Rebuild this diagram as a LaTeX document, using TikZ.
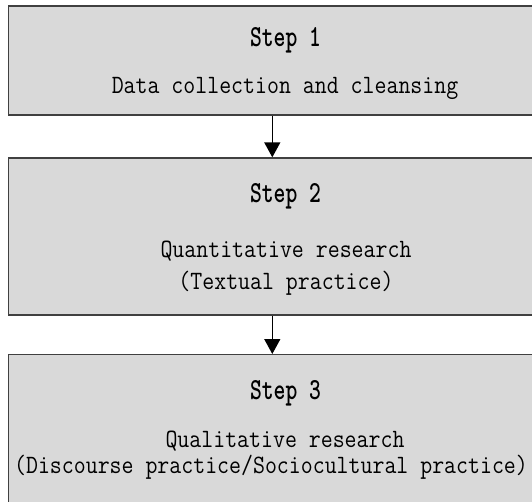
\documentclass[tikz,border=0pt]{standalone}
\usepackage{fontspec}
\usetikzlibrary{arrows.meta}
\definecolor{boxfill}{RGB}{217,217,217}
\definecolor{boxline}{RGB}{64,64,64}
\newcommand{\ttl}[1]{\scalebox{1}[1.36]{#1}}
\newcommand{\txt}[1]{\scalebox{1}[1.14]{#1}}
\tikzset{
  stepbox/.style={draw=boxline, line width=1.4pt, fill=boxfill, inner sep=0pt, anchor=north west},
  steptitle/.style={font=\ttfamily\bfseries\fontsize{22.5}{24}\selectfont, inner sep=0pt, anchor=base},
  steptext/.style={font=\ttfamily\fontsize{23.2}{25}\selectfont\addfontfeatures{FakeBold=0.35}, inner sep=0pt, anchor=base},
  arr/.style={line width=1.5pt, -{Triangle[length=15pt,width=16pt]}}
}
\begin{document}
\begin{tikzpicture}[x=1pt,y=-1pt]
\useasboundingbox (0,0) rectangle (532,501);
\clip (0,0) rectangle (532,501);
\node[stepbox, minimum width=530pt, minimum height=109pt] (box1) at (7.5,5.3) {};
\node[stepbox, minimum width=530pt, minimum height=157pt] (box2) at (7.5,157.3) {};
\node[stepbox, minimum width=530pt, minimum height=155pt] (box3) at (7.5,354) {};
\node[steptitle] (t1) at (285.5,46) {\ttl{Step 1}};
\node[steptext] (d1) at (285,93.3) {\txt{Data collection and cleansing}};
\node[steptitle] (t2) at (285.5,202) {\ttl{Step 2}};
\node[steptext] (d2a) at (286,257.5) {\txt{Quantitative research}};
\node[steptext] (d2b) at (286,289) {\txt{(Textual practice)}};
\node[steptitle] (t3) at (285.5,399) {\ttl{Step 3}};
\node[steptext] (d3a) at (285,447) {\txt{Qualitative research}};
\node[steptext] (d3b) at (271,473) {\txt{(Discourse practice/Sociocultural practice)}};
\coordinate (ax) at (272.3,0);
\draw[arr] (ax |- box1.south) -- (ax |- box2.north);
\draw[arr] (ax |- box2.south) -- (ax |- box3.north);
\end{tikzpicture}
\end{document}
